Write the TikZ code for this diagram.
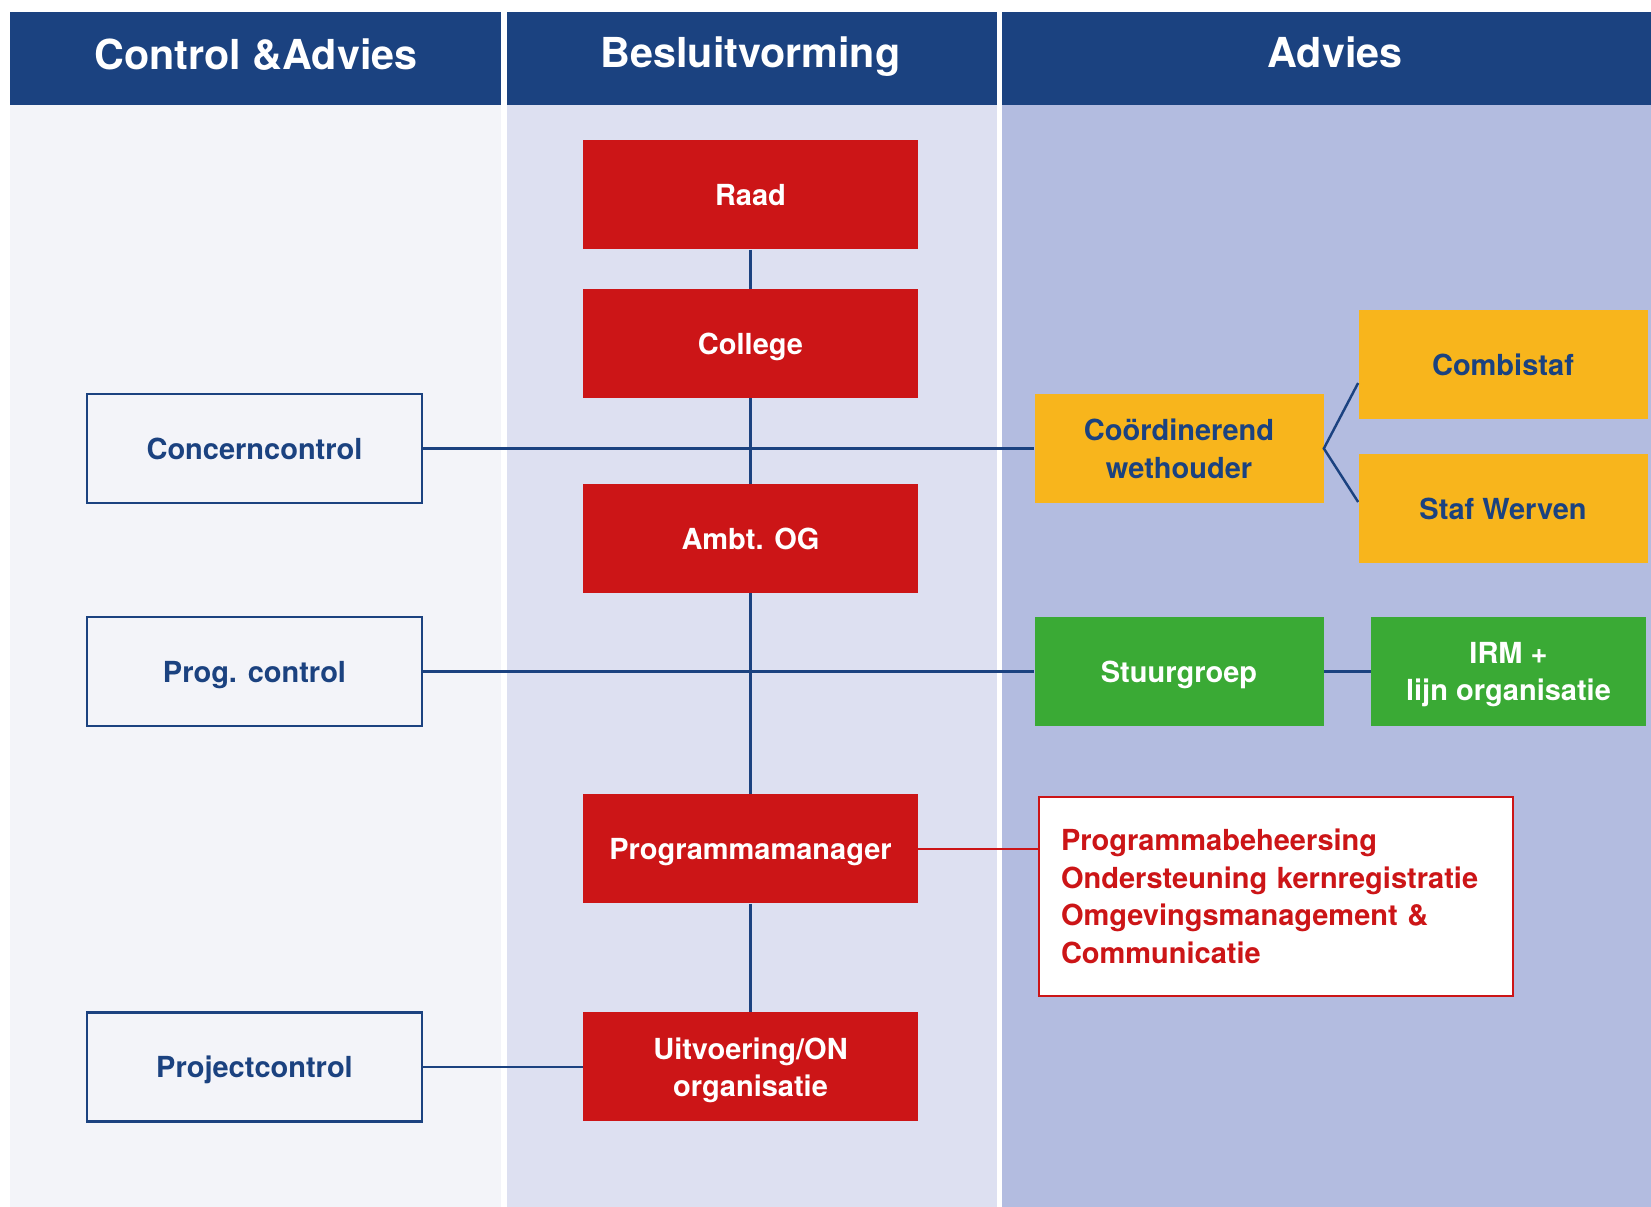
\documentclass[tikz,border=0pt]{standalone}
\usepackage{fontspec}
\setmainfont{TeX Gyre Heros}
\usetikzlibrary{calc}

\definecolor{kopblauw}{HTML}{1B4280}
\definecolor{kolomA}{HTML}{F3F4F9}
\definecolor{kolomB}{HTML}{DDE0F1}
\definecolor{kolomC}{HTML}{B3BCE0}
\definecolor{rood}{HTML}{CC1517}
\definecolor{oranje}{HTML}{F8B51C}
\definecolor{groen}{HTML}{3AAA35}

\begin{document}
\begin{tikzpicture}[
    kop/.style={text=white,anchor=base,font=\fontsize{23.5}{28}\selectfont\bfseries},
    blok/.style={minimum width=6.7cm,minimum height=2.18cm,align=center,inner sep=0pt,
        text depth=0pt,font=\fontsize{16.5}{21.3}\selectfont\bfseries},
    roodblok/.style={blok,fill=rood,text=white},
    controlblok/.style={blok,draw=kopblauw,line width=1.5pt,fill=kolomA,text=kopblauw},
    oranjeblok/.style={blok,fill=oranje,text=kopblauw,minimum width=5.78cm},
    groenblok/.style={blok,fill=groen,text=white,minimum width=5.5cm},
    lijn/.style={kopblauw,line width=1.4pt}
]

    \useasboundingbox (0,0) rectangle (33.02,24.14);

    \fill[kolomA] (0.19,0) rectangle (10.02,22.04);
    \fill[kolomB] (10.13,0) rectangle (19.94,22.04);
    \fill[kolomC] (20.04,0) rectangle (33.02,22.04);

    \fill[kopblauw] (0.19,22.04) rectangle (10.02,23.90);
    \fill[kopblauw] (10.13,22.04) rectangle (19.94,23.90);
    \fill[kopblauw] (20.04,22.04) rectangle (33.02,23.90);

    \node[kop] (kopcontrol) at (5.12,22.74) {Control \&Advies};
    \node[kop] (kopbesluit) at (15.01,22.78) {Besluitvorming};
    \node[kop] (kopadvies) at (26.70,22.78) {Advies};

    \node[roodblok] (raad) at (15.01,20.24) {Raad};
    \node[roodblok] (college) at (15.01,17.27) {College};
    \node[roodblok] (ambt) at (15.01,13.37) {Ambt. OG};
    \node[roodblok] (pm) at (15.01,7.16) {Programmamanager};
    \node[roodblok] (uitv) at (15.01,2.80) {Uitvoering/ON\\organisatie};

    \node[controlblok] (concern) at (5.09,15.17) {Concerncontrol};
    \node[controlblok] (progc) at (5.09,10.71) {Prog. control};
    \node[controlblok] (projc) at (5.09,2.80) {Projectcontrol};

    \node[oranjeblok] (coord) at (23.58,15.17) {Coördinerend\\wethouder};
    \node[oranjeblok] (combi) at (30.06,16.84) {Combistaf};
    \node[oranjeblok] (staf) at (30.06,13.96) {Staf Werven};

    \node[groenblok,minimum width=5.78cm] (stuur) at (23.58,10.71) {Stuurgroep};
    \node[groenblok] (irm) at (30.17,10.71) {IRM +\\lijn organisatie};

    \node[draw=rood,line width=1.5pt,fill=white,text=rood,align=left,
        minimum width=9.48cm,minimum height=3.98cm,text width=8.6cm,inner xsep=0.44cm,
        font=\fontsize{16.5}{21.3}\selectfont\bfseries] (taken) at (25.52,6.21)
        {Programmabeheersing\\Ondersteuning kernregistratie\\Omgevingsmanagement \&\\Communicatie};

    \draw[lijn] (raad) -- (college);
    \draw[lijn] (college) -- (ambt);
    \draw[lijn] (ambt) -- (pm);
    \draw[lijn] (pm) -- (uitv);

    \draw[lijn] (concern) -- (coord);
    \draw[lijn] (progc) -- (stuur);
    \draw[lijn] (stuur) -- (irm);
    \draw[lijn] (projc) -- (uitv);

    \draw[lijn] ($(combi.west)+(0,-0.36)$) -- (coord.east) -- ($(staf.west)+(0,0.14)$);

    \draw[rood,line width=1.4pt] (pm.east) -- (pm.east -| taken.west);

\end{tikzpicture}
\end{document}
